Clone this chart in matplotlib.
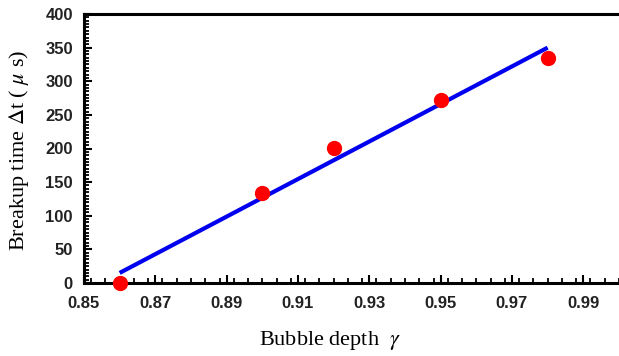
import numpy as np
import matplotlib
matplotlib.use('Agg')
import matplotlib.pyplot as plt
from matplotlib.ticker import MultipleLocator

plt.rcParams['mathtext.fontset'] = 'stix'

# --- データ ---
depth = [0.86, 0.90, 0.92, 0.95, 0.98]
breakup_time = [0, 134, 201, 272, 334]

# 近似直線 (図から読み取った端点)
fit_x = [0.86, 0.98]
fit_y = [15, 350]

x_ticks = [0.85, 0.87, 0.89, 0.91, 0.93, 0.95, 0.97, 0.99]
y_ticks = [0, 50, 100, 150, 200, 250, 300, 350, 400]

# --- 描画 ---
fig = plt.figure(figsize=(6.19, 3.56), dpi=100)
ax = fig.add_axes([84 / 619, 1 - 283 / 356, 1 - 84 / 619, (283 - 14) / 356])

ax.plot(fit_x, fit_y, color='#0000ee', linewidth=3, solid_capstyle='butt', zorder=2)
ax.plot(depth, breakup_time, 'o', color='#ff0000', markersize=10, zorder=3, clip_on=False)

ax.set_xlim(0.85, 1.0)
ax.set_ylim(0, 400)
ax.set_xticks(x_ticks)
ax.set_xticklabels([f'{v:.2f}' for v in x_ticks])
ax.set_yticks(y_ticks)
ax.xaxis.set_minor_locator(MultipleLocator(0.004))
ax.yaxis.set_minor_locator(MultipleLocator(5))

for s in ['left', 'bottom', 'top']:
    ax.spines[s].set_linewidth(2.2)
ax.spines['right'].set_visible(False)

ax.tick_params(which='major', direction='in', length=6, width=1.5,
               labelsize=12, pad=9)
ax.tick_params(which='minor', direction='in', length=3.5, width=1.3)
ax.tick_params(axis='y', which='both', right=False, pad=8)
ax.tick_params(axis='x', which='both', top=False)
for lab in ax.get_xticklabels() + ax.get_yticklabels():
    lab.set_fontweight('bold')
    lab.set_family('Liberation Sans')
    lab.set_color('#222222')

serif = {'family': 'Liberation Serif', 'size': 16}
fig.text(330 / 619, 1 - 340 / 356, r'Bubble depth  $\gamma$', ha='center', va='center',
         fontdict=serif)
fig.text(19 / 619, 1 - 150 / 356, r'Breakup time $\Delta$t ( $\mu$ s)', ha='center', va='center',
         rotation=90, fontdict=serif)

fig.savefig('out.png', dpi=100)
